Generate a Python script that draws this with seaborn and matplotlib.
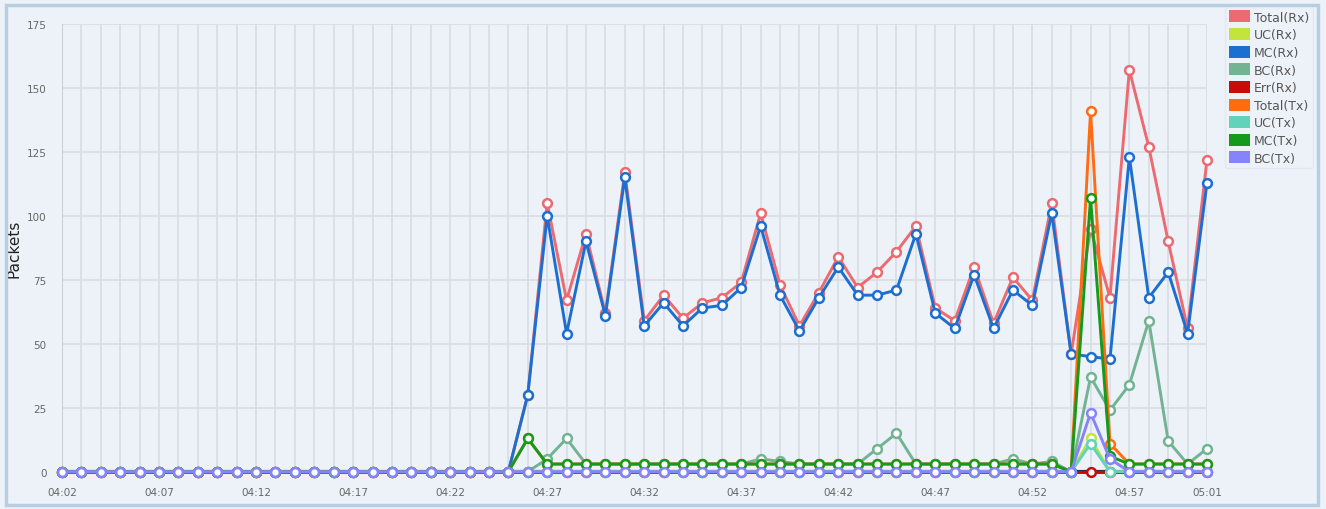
import pandas as pd
import numpy as np
import matplotlib.pyplot as plt
import seaborn as sns
from matplotlib.patches import Patch, Rectangle

# one sample per minute, 04:02 .. 05:01
times = list(pd.date_range("2024-01-01 04:02", periods=60, freq="min").strftime("%H:%M"))

total_rx = [0] * 24 + [30, 105, 67, 93, 62, 117, 59, 69, 60, 66, 68, 74, 101, 73, 57, 70, 84, 72,
                       78, 86, 96, 64, 59, 80, 58, 76, 67, 105, 46, 95, 68, 157, 127, 90, 56, 122]
uc_rx = [0] * 53 + [13, 0, 0, 0, 0, 0, 0]
mc_rx = [0] * 24 + [30, 100, 54, 90, 61, 115, 57, 66, 57, 64, 65, 72, 96, 69, 55, 68, 80, 69,
                    69, 71, 93, 62, 56, 77, 56, 71, 65, 101, 46, 45, 44, 123, 68, 78, 54, 113]
bc_rx = [0] * 24 + [0, 5, 13, 3, 3, 3, 3, 3, 3, 3, 3, 3, 5, 4, 3, 3, 3, 3,
                    9, 15, 3, 3, 3, 3, 3, 5, 3, 4, 0, 37, 24, 34, 59, 12, 3, 9]
err_rx = [0] * 60
total_tx = [0] * 24 + [13] + [3] * 27 + [0, 141, 11, 3, 3, 3, 3, 3]
uc_tx = [0] * 53 + [11, 0, 0, 0, 0, 0, 0]
mc_tx = [0] * 24 + [13] + [3] * 27 + [0, 107, 6, 3, 3, 3, 3, 3]
bc_tx = [0] * 53 + [23, 5, 0, 0, 0, 0, 0]

series = {
    "Total(Rx)": total_rx,
    "UC(Rx)": uc_rx,
    "MC(Rx)": mc_rx,
    "BC(Rx)": bc_rx,
    "Err(Rx)": err_rx,
    "Total(Tx)": total_tx,
    "UC(Tx)": uc_tx,
    "MC(Tx)": mc_tx,
    "BC(Tx)": bc_tx,
}
colors = {
    "Total(Rx)": "#ec6a72",
    "UC(Rx)": "#c2e43c",
    "MC(Rx)": "#1c6fd0",
    "BC(Rx)": "#72b393",
    "Err(Rx)": "#c80a0a",
    "Total(Tx)": "#ff6c12",
    "UC(Tx)": "#62d2bb",
    "MC(Tx)": "#169a1c",
    "BC(Tx)": "#8684fb",
}

rows = []
for name, vals in series.items():
    for i, v in enumerate(vals):
        rows.append({"minute": i, "time": times[i], "series": name, "packets": v})
df = pd.DataFrame(rows)

bg = "#edf2f8"
sns.set_style("white")
plt.rcParams["font.family"] = ["DejaVu Sans"]

fig = plt.figure(figsize=(13.26, 5.10), dpi=100, facecolor=bg)
ax = fig.add_axes([62 / 1326, 1 - 472.7 / 510, (1207 - 62) / 1326, (472.7 - 25) / 510])
ax.set_facecolor(bg)

# dark baseline under the zero-valued series
ax.axhline(0, color="#2a2f4a", lw=3, zorder=2)

for name in series:
    sub = df[df["series"] == name]
    sns.lineplot(data=sub, x="minute", y="packets", ax=ax, color=colors[name], lw=2.1,
                 marker="o", markersize=6.3, markerfacecolor="white",
                 markeredgecolor=colors[name], markeredgewidth=1.8, clip_on=False,
                 legend=False, zorder=3)

ax.set_xlim(0, 59)
ax.set_ylim(0, 175)
ax.set_yticks(np.arange(0, 176, 25))
ax.set_xticks(list(range(0, 60, 5)) + [59])
ax.set_xticklabels([times[i] for i in list(range(0, 60, 5)) + [59]])
ax.set_xticks(range(60), minor=True)
ax.grid(True, which="both", color="#d5dbe1", lw=1.1, zorder=0)
ax.set_axisbelow(True)
ax.tick_params(axis="both", which="both", length=0, labelsize=7.5, labelcolor="#666666")
ax.tick_params(axis="x", pad=11)
ax.tick_params(axis="y", pad=11)
for s in ax.spines.values():
    s.set_visible(False)
ax.axvline(0, color="#c4cad0", lw=1.3, zorder=1)
ax.set_xlabel("")
ax.set_ylabel("Packets", fontsize=11, color="#222222")
ax.yaxis.set_label_coords(-0.035, 0.5)

handles = [Patch(facecolor=colors[n], edgecolor="none", label=n) for n in series]
leg = fig.legend(handles=handles, loc="upper left", bbox_to_anchor=(1225 / 1326, 0.985),
                 frameon=True, fontsize=9, handlelength=1.7, handleheight=1.1,
                 handletextpad=0.3, labelspacing=0.35, borderpad=0.3, borderaxespad=0)
leg.get_frame().set_facecolor(bg)
leg.get_frame().set_edgecolor("#dfe6ee")
for t in leg.get_texts():
    t.set_color("#555555")

fig.patches.append(Rectangle((6 / 1326, 4 / 510), 1312 / 1326, 500 / 510,
                             transform=fig.transFigure, fill=False,
                             edgecolor="#b7cde2", lw=2.5))

plt.savefig("out.png", dpi=100, facecolor=bg)
